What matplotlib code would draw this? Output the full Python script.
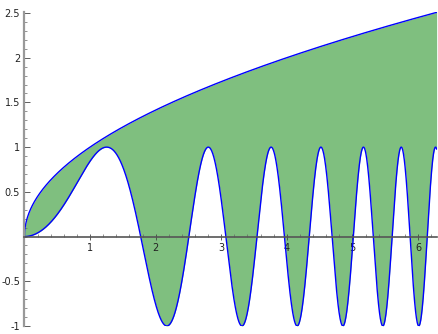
import numpy as np
import matplotlib
matplotlib.use("Agg")
import matplotlib.pyplot as plt
from matplotlib.ticker import MultipleLocator, FuncFormatter

# ── Curves: sqrt(x) above, sin(x^2) below, over [0, 2*pi] ──────────────────────
X_MIN, X_MAX = 0.0, 2 * np.pi
N_SAMPLES = 2000
x = np.linspace(X_MIN, X_MAX, N_SAMPLES)
upper = np.sqrt(x)
lower = np.sin(x ** 2)

x_major = [1, 2, 3, 4, 5, 6]
y_major = [-1, -0.5, 0.5, 1, 1.5, 2, 2.5]

FILL = "#7fbf7f"
LINE = "#0000ff"
AXIS = "#999999"

fig = plt.figure(figsize=(4.39, 3.34), dpi=100)
ax = fig.add_axes([0.0556, 0.024, 0.939, 0.939])

ax.fill_between(x, lower, upper, color=FILL, linewidth=0)
ax.plot(x, upper, color=LINE, lw=1.0)
ax.plot(x, lower, color=LINE, lw=1.0)

ax.set_xlim(X_MIN, X_MAX)
ax.set_ylim(-1.0, np.sqrt(X_MAX))

# axes crossing at the origin
for side in ("top", "right"):
    ax.spines[side].set_visible(False)
ax.spines["left"].set_position(("data", 0))
ax.spines["bottom"].set_position(("data", 0))
ax.spines["left"].set_color(AXIS)
ax.spines["left"].set_linewidth(1.6)
ax.spines["bottom"].set_color("#555555")
ax.spines["bottom"].set_linewidth(1.2)

ax.set_xticks(x_major)
ax.set_yticks(y_major)
ax.xaxis.set_minor_locator(MultipleLocator(0.2))
ax.yaxis.set_minor_locator(MultipleLocator(0.1))
fmt = FuncFormatter(lambda v, p: f"{v:g}")
ax.xaxis.set_major_formatter(fmt)
ax.yaxis.set_major_formatter(fmt)

ax.tick_params(axis="both", which="major", direction="in", length=4, width=0.6,
               color="#444444", labelsize=7, labelcolor="#222222", pad=3)
ax.tick_params(axis="both", which="minor", direction="in", length=2, width=0.5,
               color="#666666")
ax.tick_params(axis="x", which="major", direction="inout", length=4)

fig.savefig("out.png", dpi=100)
